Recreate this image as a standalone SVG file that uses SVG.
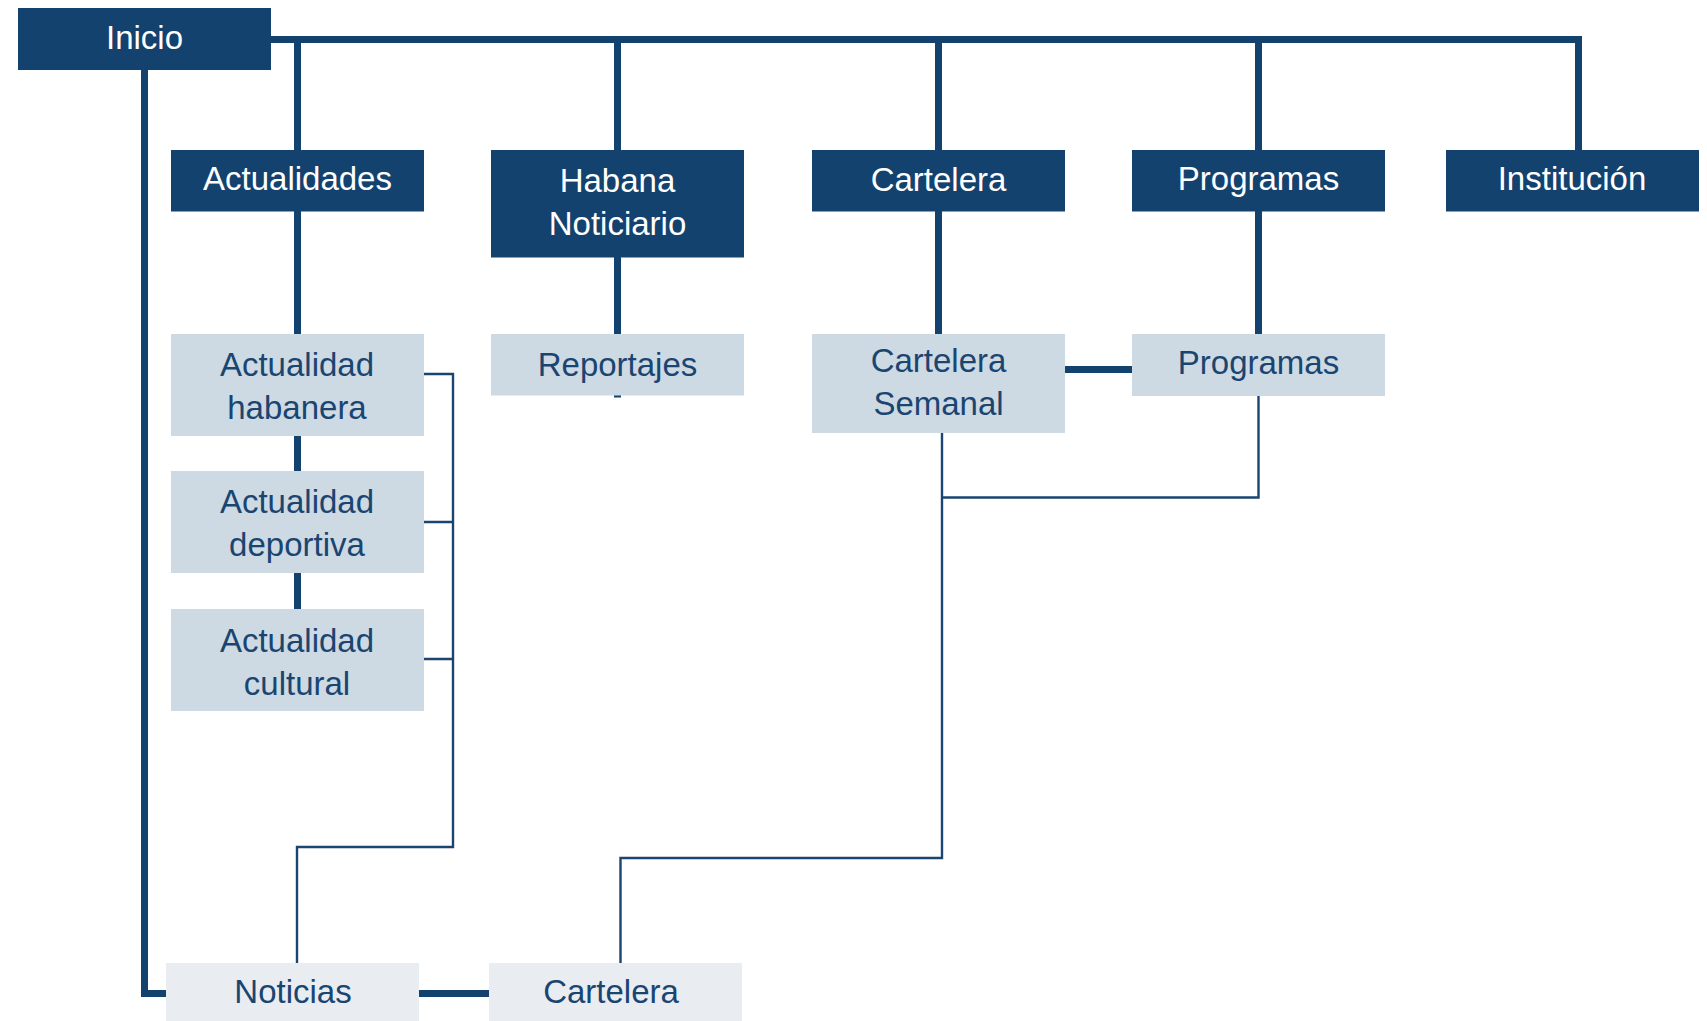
<svg xmlns="http://www.w3.org/2000/svg" width="1707" height="1021" viewBox="0 0 1707 1021">
<style>
.dark{fill:#14426f}
.light{fill:#cdd9e3}
.pale{fill:#e9edf2}
.tw{fill:#ffffff;font-family:"Liberation Sans",Arial,sans-serif;font-size:33px;text-anchor:middle}
.td{fill:#1a4571;font-family:"Liberation Sans",Arial,sans-serif;font-size:33px;text-anchor:middle}
.thick{fill:none;stroke:#14426f;stroke-width:7;stroke-linejoin:miter}
.thin{fill:none;stroke:#1a4571;stroke-width:2.4}
</style>
<rect width="1707" height="1021" fill="#ffffff"/>
<g id="connectors">
<path class="thick" d="M270,39.5 H1578.5 V150"/>
<path class="thick" d="M297.5,39.5 V150 M617.5,39.5 V150 M938.5,39.5 V150 M1258.5,39.5 V150"/>
<path class="thick" d="M144.5,70 V993.5 H166"/>
<path class="thick" d="M297.5,211 V334 M297.5,436 V471 M297.5,573 V609"/>
<path class="thick" d="M617.5,257 V334 M617.5,395 V397.5"/>
<path class="thick" d="M938.5,211 V334 M1258.5,211 V334"/>
<path class="thick" d="M1065,369.5 H1132"/>
<path class="thick" d="M419,993.5 H489"/>
<path class="thin" d="M424,374 H453 V847 H297 V963"/>
<path class="thin" d="M424,522 H453 M424,659 H453"/>
<path class="thin" d="M1258.5,396 V497.5 H942 M942,433 V858 H620.5 V963"/>
</g>
<g id="n-inicio"><rect class="dark" x="18" y="8" width="253" height="62"/><text class="tw" x="144.5" y="49">Inicio</text></g>
<g id="n-actualidades"><rect class="dark" x="171" y="150" width="253" height="61.5"/><text class="tw" x="297.5" y="190">Actualidades</text></g>
<g id="n-habana"><rect class="dark" x="491" y="150" width="253" height="107.5"/><text class="tw" x="617.5" y="191.5">Habana</text><text class="tw" x="617.5" y="235">Noticiario</text></g>
<g id="n-cartelera"><rect class="dark" x="812" y="150" width="253" height="61.5"/><text class="tw" x="938.5" y="190.5">Cartelera</text></g>
<g id="n-programas"><rect class="dark" x="1132" y="150" width="253" height="61.5"/><text class="tw" x="1258.5" y="189.5">Programas</text></g>
<g id="n-institucion"><rect class="dark" x="1446" y="150" width="253" height="61.5"/><text class="tw" x="1572" y="190">Institución</text></g>
<g id="n-act-habanera"><rect class="light" x="171" y="334" width="253" height="102"/><text class="td" x="297" y="376">Actualidad</text><text class="td" x="297" y="419">habanera</text></g>
<g id="n-act-deportiva"><rect class="light" x="171" y="471" width="253" height="102"/><text class="td" x="297" y="513">Actualidad</text><text class="td" x="297" y="556">deportiva</text></g>
<g id="n-act-cultural"><rect class="light" x="171" y="609" width="253" height="102"/><text class="td" x="297" y="651.5">Actualidad</text><text class="td" x="297" y="694.5">cultural</text></g>
<g id="n-reportajes"><rect class="light" x="491" y="334" width="253" height="61.5"/><text class="td" x="617.5" y="376">Reportajes</text></g>
<g id="n-cartelera-semanal"><rect class="light" x="812" y="334" width="253" height="99"/><text class="td" x="938.5" y="372">Cartelera</text><text class="td" x="938.5" y="415">Semanal</text></g>
<g id="n-programas2"><rect class="light" x="1132" y="334" width="253" height="62"/><text class="td" x="1258.5" y="374">Programas</text></g>
<g id="n-noticias"><rect class="pale" x="166" y="963" width="253" height="58"/><text class="td" x="293" y="1002.5">Noticias</text></g>
<g id="n-cartelera2"><rect class="pale" x="489" y="963" width="253" height="58"/><text class="td" x="611" y="1002.5">Cartelera</text></g>
</svg>
